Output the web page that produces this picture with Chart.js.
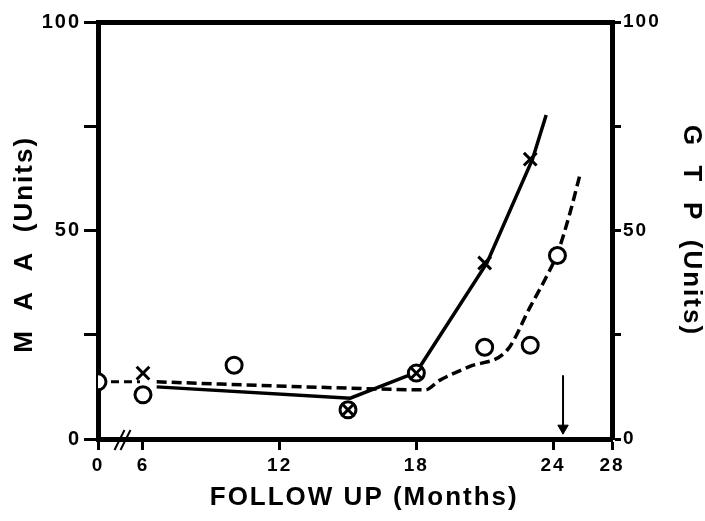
<!DOCTYPE html>
<html>
<head>
<meta charset="utf-8">
<script src="https://cdn.jsdelivr.net/npm/chart.js@4.4.1/dist/chart.umd.min.js"></script>
<style>
  html, body { margin: 0; padding: 0; background: #ffffff; }
  #c { display: block; }
</style>
</head>
<body>
<canvas id="c" width="705" height="521" style="width:705px;height:521px"></canvas>
<script>
// ---- data (months, units) ----
const monthTicks = [0, 6, 12, 18, 24, 28];
const valueTicks = [0, 25, 50, 75, 100];
const labelledValues = [0, 50, 100];

// "X" measurements (MAA)
const maaMonths = [6, 15, 18, 21, 23];
const maaValues = [15.8, 7, 15.8, 42.2, 67.1];
// "O" measurements (GTP)
const gtpMonths = [0, 6, 10, 15, 18, 21, 23, 24.3];
const gtpValues = [13.7, 10.6, 17.7, 7, 15.8, 22, 22.5, 44];

// solid trend line (MAA)
const maaLineMonths = [6.6, 15.1, 18, 21.1, 23.1, 23.7];
const maaLineValues = [12.5, 9.8, 16, 42.2, 67.1, 77.7];
// dashed trend line (GTP), before and after the axis break
const gtpLeadMonths = [0, 5.6];
const gtpLeadValues = [13.7, 13.7];
const gtpLineMonths = [6.6, 15, 18.4, 19, 20.3, 22, 23, 23.7, 24.3, 25.15, 25.8];
const gtpLineValues = [13.7, 12.2, 11.8, 14, 17.3, 21.4, 31.7, 38.8, 44.5, 54.2, 63];

// arrow marker
const arrowMonths = [24.68, 24.68];
const arrowValues = [15.3, 2.6];

// axis break (months 0 -> 6 compressed, 24 -> 28 compressed)
const breakMonth = 3;
const scaleNodeMonths = [0, 6, 24, 28];
const scaleNodeUnits = [4.025, 6, 24, 26.59];

// axis titles
const xTitle = '\u00a0\u00a0FOLLOW UP (Months)';
const yTitle = 'M  A  A  (Units)\u00a0\u00a0\u00a0';
const y2Title = 'G  T  P  (Units)';

function toUnit(m) {
  for (let i = 0; i < scaleNodeMonths.length - 1; i++) {
    const a = scaleNodeMonths[i], b = scaleNodeMonths[i + 1];
    if (m <= b || i === scaleNodeMonths.length - 2) {
      const t = (m - a) / (b - a);
      return scaleNodeUnits[i] + t * (scaleNodeUnits[i + 1] - scaleNodeUnits[i]);
    }
  }
}
function pts(ms, vs) { return ms.map((m, i) => ({ x: toUnit(m), y: vs[i] })); }

const FONT = "'Liberation Sans', Arial, Helvetica, sans-serif";
Chart.defaults.font.family = FONT;
Chart.defaults.font.weight = 'bold';
Chart.defaults.color = '#000';

const breakPlugin = {
  id: 'axisBreak',
  beforeDraw(chart) { chart.ctx.letterSpacing = '2px'; },
  afterDraw(chart) {
    const ctx = chart.ctx;
    const px = chart.scales.x.getPixelForValue(toUnit(breakMonth)) + 2;
    const py = chart.scales.y.getPixelForValue(0);
    ctx.save();
    ctx.strokeStyle = '#000';
    ctx.lineWidth = 2;
    for (const dx of [-3, 3]) {
      ctx.beginPath();
      ctx.moveTo(px + dx - 5, py + 11);
      ctx.lineTo(px + dx + 5, py - 9);
      ctx.stroke();
    }
    ctx.restore();
  }
};

const tickFont = { size: 19, weight: 'bold', family: FONT };
const leftTickFont = { size: 20, weight: 'bold', family: FONT };
const titleFont = { size: 26, weight: 'bold', family: FONT, lineHeight: 1 };

new Chart(document.getElementById('c'), {
  type: 'scatter',
  plugins: [breakPlugin],
  data: {
    datasets: [
      { label: 'arrow', data: pts(arrowMonths, arrowValues), showLine: true,
        borderColor: '#000', borderWidth: 2, backgroundColor: '#000',
        pointStyle: 'triangle', rotation: 180, pointRadius: [0, 6], pointBorderWidth: 1,
        order: 0, yAxisID: 'y' },
      { label: 'MAA', data: pts(maaMonths, maaValues), showLine: false,
        pointStyle: 'crossRot', pointRadius: 9, pointBorderWidth: 3,
        borderColor: '#000', backgroundColor: '#000', order: 1, yAxisID: 'y' },
      { label: 'GTP', data: pts(gtpMonths, gtpValues), showLine: false,
        pointStyle: 'circle', pointRadius: 8, pointBorderWidth: 3,
        borderColor: '#000', backgroundColor: '#fff', order: 2, yAxisID: 'y2' },
      { label: 'MAA trend', data: pts(maaLineMonths, maaLineValues), showLine: true,
        borderColor: '#000', borderWidth: 3.5, pointRadius: 0, order: 3, yAxisID: 'y' },
      { label: 'GTP trend', data: pts(gtpLineMonths, gtpLineValues), showLine: true,
        borderColor: '#000', borderWidth: 3.5, borderDash: [10, 5], pointRadius: 0,
        cubicInterpolationMode: 'monotone', order: 4, yAxisID: 'y2' },
      { label: 'GTP lead', data: pts(gtpLeadMonths, gtpLeadValues), showLine: true,
        borderColor: '#000', borderWidth: 3, borderDash: [8, 5], pointRadius: 0,
        order: 4, yAxisID: 'y2' }
    ]
  },
  options: {
    responsive: false,
    animation: false,
    layout: { padding: 0 },
    plugins: { legend: { display: false }, tooltip: { enabled: false } },
    scales: {
      x: {
        type: 'linear', position: 'bottom',
        min: toUnit(0), max: toUnit(28),
        afterBuildTicks(scale) { scale.ticks = monthTicks.map(m => ({ value: toUnit(m) })); },
        afterFit(scale) { scale.height = 82; },
        ticks: { autoSkip: false, maxRotation: 0, padding: 4, font: tickFont,
                 callback: (v, i) => String(monthTicks[i]) },
        grid: { drawOnChartArea: false, drawTicks: true, tickLength: 11, tickWidth: 3, tickColor: '#000' },
        border: { display: true, color: '#000', width: 5 },
        title: { display: true, text: xTitle, font: titleFont, color: '#000',
                 padding: { top: 0, bottom: 10 } }
      },
      xTop: {
        type: 'linear', position: 'top',
        min: toUnit(0), max: toUnit(28),
        afterFit(scale) { scale.height = 22; },
        ticks: { display: false },
        grid: { display: false },
        border: { display: true, color: '#000', width: 5 }
      },
      y: {
        type: 'linear', position: 'left', min: 0, max: 100,
        afterBuildTicks(scale) { scale.ticks = valueTicks.map(v => ({ value: v })); },
        afterFit(scale) { scale.width = 98; },
        ticks: { padding: 3, font: leftTickFont,
                 callback: v => (labelledValues.includes(v) ? String(v) : '') },
        grid: { drawOnChartArea: false, drawTicks: true, tickLength: 14, tickWidth: 3, tickColor: '#000' },
        border: { display: true, color: '#000', width: 5 },
        title: { display: true, text: yTitle, font: titleFont, color: '#000',
                 padding: { top: 12, bottom: 0 } }
      },
      y2: {
        type: 'linear', position: 'right', min: 0, max: 100,
        afterBuildTicks(scale) { scale.ticks = valueTicks.map(v => ({ value: v })); },
        afterFit(scale) { scale.width = 93; },
        ticks: { padding: 2, font: tickFont,
                 callback: v => (labelledValues.includes(v) ? String(v) : '') },
        grid: { drawOnChartArea: false, drawTicks: true, tickLength: 9, tickWidth: 3, tickColor: '#000' },
        border: { display: true, color: '#000', width: 5 },
        title: { display: true, text: y2Title, font: titleFont, color: '#000',
                 padding: { top: 1, bottom: 0 } }
      }
    }
  }
});
</script>
</body>
</html>
